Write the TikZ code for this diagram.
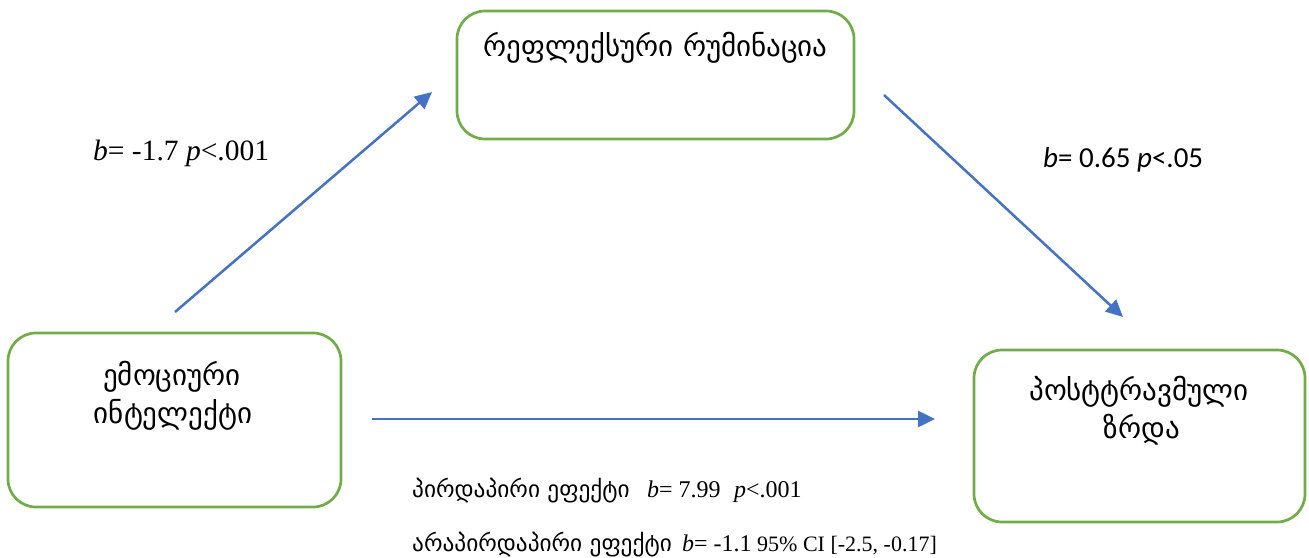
\documentclass[tikz,border=0pt]{standalone}
\usepackage{fontspec}
\usetikzlibrary{arrows.meta}
\setmainfont{Liberation Serif}
\newfontfamily\geo{DejaVu Sans}
\newfontfamily\calfont{Carlito}
\definecolor{boxgreen}{HTML}{70AD47}
\definecolor{arrowblue}{HTML}{4472C4}
\tikzset{
  varbox/.style={draw=boxgreen, line width=2.7pt, rounded corners=28pt, fill=white, inner sep=0pt},
  boxtext/.style={font=\geo\fontsize{29}{38}\selectfont, inner sep=0pt, anchor=base},
  path/.style={draw=arrowblue, line width=2.5pt, -{Triangle[length=17pt,width=16pt]}},
  stat/.style={inner sep=0pt, anchor=base west},
  geosmall/.style={stat, font=\geo\fontsize{23.3}{26}\selectfont},
  numsmall/.style={stat, font=\fontsize{24}{26}\selectfont}
}
\begin{document}
\begin{tikzpicture}[x=1pt,y=-1pt]
\useasboundingbox (0,0) rectangle (1309,557);
% boxes
\node[varbox, minimum width=397pt, minimum height=128pt] (rum) at (655.5,75) {};
\node[varbox, minimum width=333pt, minimum height=174pt] (ei) at (174.5,420) {};
\node[varbox, minimum width=331pt, minimum height=172pt] (ptg) at (1139.5,436) {};
% box texts
\node[boxtext] (rumt) at (655.5,56) {რეფლექსური რუმინაცია};
\node[boxtext] (eit1) at (172,385) {ემოციური};
\node[boxtext] (eit2) at (173,423) {ინტელექტი};
\node[boxtext] (ptgt1) at (1139,400) {პოსტტრავმული};
\node[boxtext] (ptgt2) at (1142,438) {ზრდა};
% connector end points
\coordinate (a1s) at (175,312);
\coordinate (a1e) at (432,92);
\coordinate (a2s) at (884,95);
\coordinate (a2e) at (1123,317);
\coordinate (a3s) at (372,419);
\coordinate (a3e) at (935,419);
\draw[path] (a1s) -- (a1e);
\draw[path] (a2s) -- (a2e);
\draw[path] (a3s) -- (a3e);
% labels
\node[stat, font=\fontsize{29.5}{31}\selectfont] (l1) at (93,160) {\textit{b}= -1.7 \textit{p}<.001};
\node[stat, font=\calfont\fontsize{29}{31}\selectfont] (l2) at (1043,167) {\textit{b}= 0.65 \textit{p}<.05};
% direct effect line
\node[geosmall] (d1) at (412,497) {პირდაპირი ეფექტი};
\node[numsmall] (d2) at (647,497) {\textit{b}= 7.99};
\node[numsmall] (d3) at (734,497) {\textit{p}<.001};
% indirect effect line
\node[geosmall] (i1) at (412,551) {არაპირდაპირი ეფექტი};
\node[numsmall] (i2) at (682,551) {\textit{b}= -1.1};
\node[stat, font=\fontsize{22}{24}\selectfont] (i3) at (757,551) {95\% CI [-2.5, -0.17]};
\end{tikzpicture}
\end{document}
